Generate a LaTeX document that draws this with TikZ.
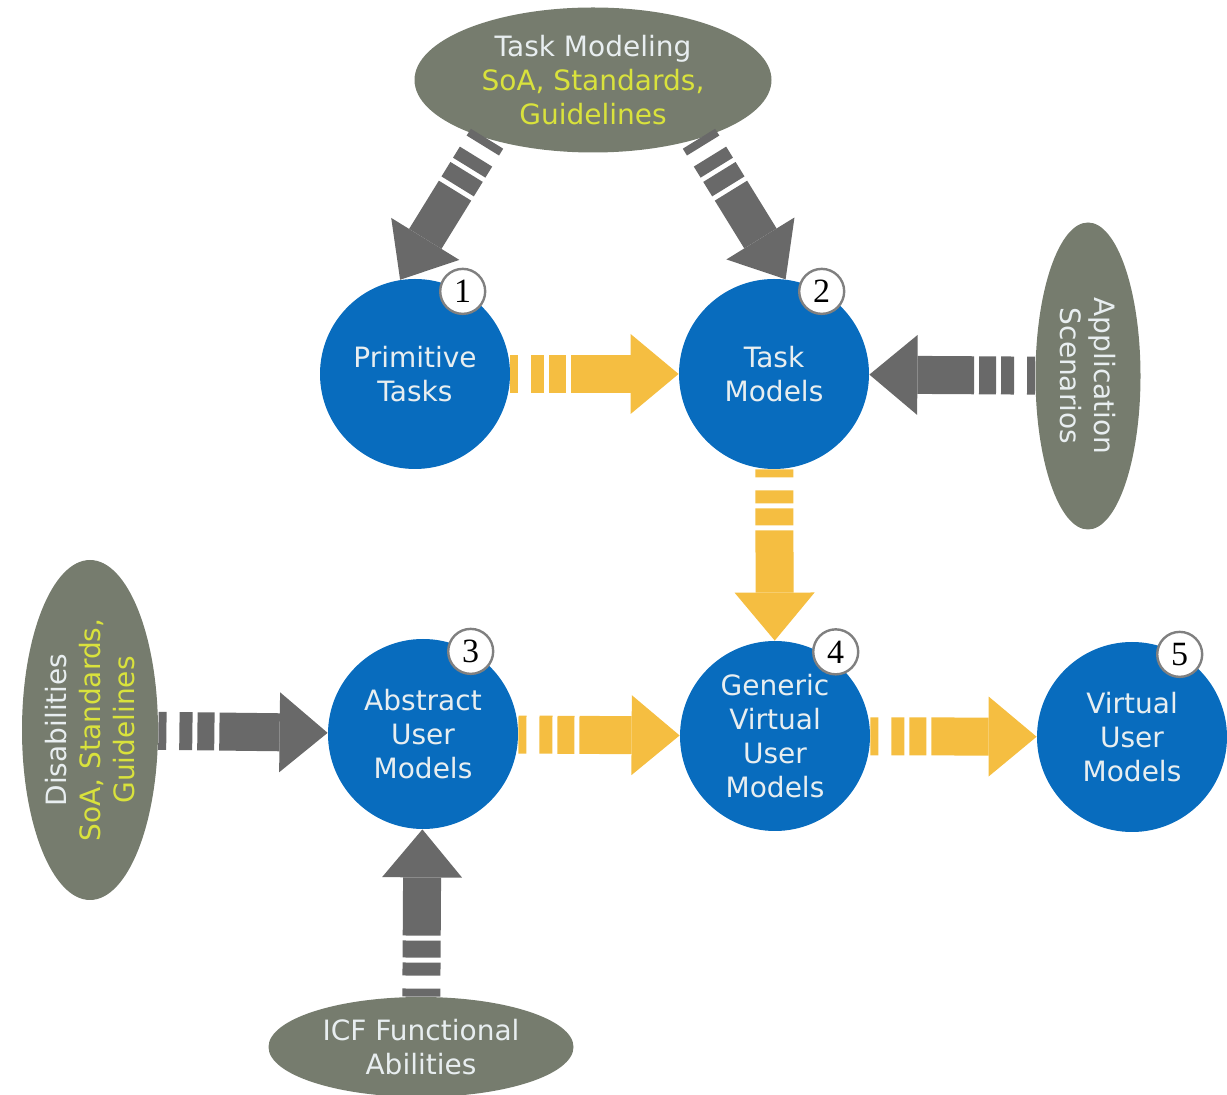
\documentclass[tikz,border=0pt]{standalone}
\usepackage{fontspec}
\setmainfont{DejaVu Sans}
\newfontfamily\numfont{Liberation Serif}
\usetikzlibrary{shapes.geometric , arrows.meta}

\definecolor{umblue}{HTML}{086CBE}
\definecolor{ovalgray}{HTML}{767C6E}
\definecolor{arrgray}{HTML}{696969}
\definecolor{arryellow}{HTML}{F5BE41}
\definecolor{lighttext}{HTML}{E8EEF0}
\definecolor{srcyellow}{HTML}{D9E23C}

\tikzset{
  model/.style = {circle , fill = umblue , minimum size = 95pt , inner sep = 0pt , align = center , text = lighttext , font = \fontsize{14}{17}\selectfont},
  source/.style = {ellipse , fill = ovalgray , inner sep = 0pt , align = center , text = lighttext , font = \fontsize{14}{17}\selectfont},
  badge/.style = {circle , fill = white , draw = gray , line width = 1.2pt , minimum size = 22.5pt , inner sep = 0pt , font = \numfont\fontsize{17}{17}\selectfont},
  flow/.style = {line width = 19pt , dash pattern = on 4pt off 6.5pt on 6.5pt off 2.5pt on 8.5pt off 2.5pt on 300pt , -{Triangle[length = 24pt , width = 40pt , line width = 0pt]}},
  feed/.style = {flow , draw = arrgray},
  pass/.style = {flow , draw = arryellow}
}

\begin{document}
\begin{tikzpicture}[x = 0.5pt , y = -0.5pt]
    \useasboundingbox (0,0) rectangle (1227,1095);
    % sources
    \node[source , minimum width = 178.5pt , minimum height = 72.5pt] (tmod) at (593,80) {Task Modeling\\ \textcolor{srcyellow}{SoA, Standards,}\\ \textcolor{srcyellow}{Guidelines}};
    \node[source , rotate = -90 , minimum width = 153.5pt , minimum height = 52.5pt] (app) at (1088,376) {Application\\ Scenarios};
    \node[source , rotate = 90 , minimum width = 170pt , minimum height = 68pt] (dis) at (90,730) {Disabilities\\ \textcolor{srcyellow}{SoA, Standards,}\\ \textcolor{srcyellow}{Guidelines}};
    \node[source , minimum width = 152.5pt , minimum height = 50pt] (icf) at (421,1047) {ICF Functional\\ Abilities};
    % models
    \node[model] (prim) at (415,374) {Primitive\\ Tasks};
    \node[model] (task) at (774,374) {Task\\ Models};
    \node[model] (aum) at (423,734) {Abstract\\ User\\ Models};
    \node[model] (gvum) at (775,736) {Generic\\ Virtual\\ User\\ Models};
    \node[model] (vum) at (1132,737) {Virtual\\ User\\ Models};
    % arrows
    \draw[feed] (tmod.209) -- (prim.99);
    \draw[feed] (tmod.331) -- (task.83);
    \draw[feed] (app) -- (task);
    \draw[pass] (prim) -- (task);
    \draw[pass] (task) -- (gvum);
    \draw[feed] (dis) -- (aum);
    \draw[feed] (icf) -- (aum);
    \draw[pass] (aum) -- (gvum);
    \draw[pass] (gvum) -- (vum);
    % numbers
    \foreach \n/\k/\a in {prim/1/60 , task/2/60 , aum/3/60 , vum/5/60}
        \node[badge] (b\k) at (\n.\a) {\k};
    \node[badge , xshift = 3pt , yshift = 3pt] (b4) at (gvum.55) {4}; % sits a bit further out
\end{tikzpicture}
\end{document}
